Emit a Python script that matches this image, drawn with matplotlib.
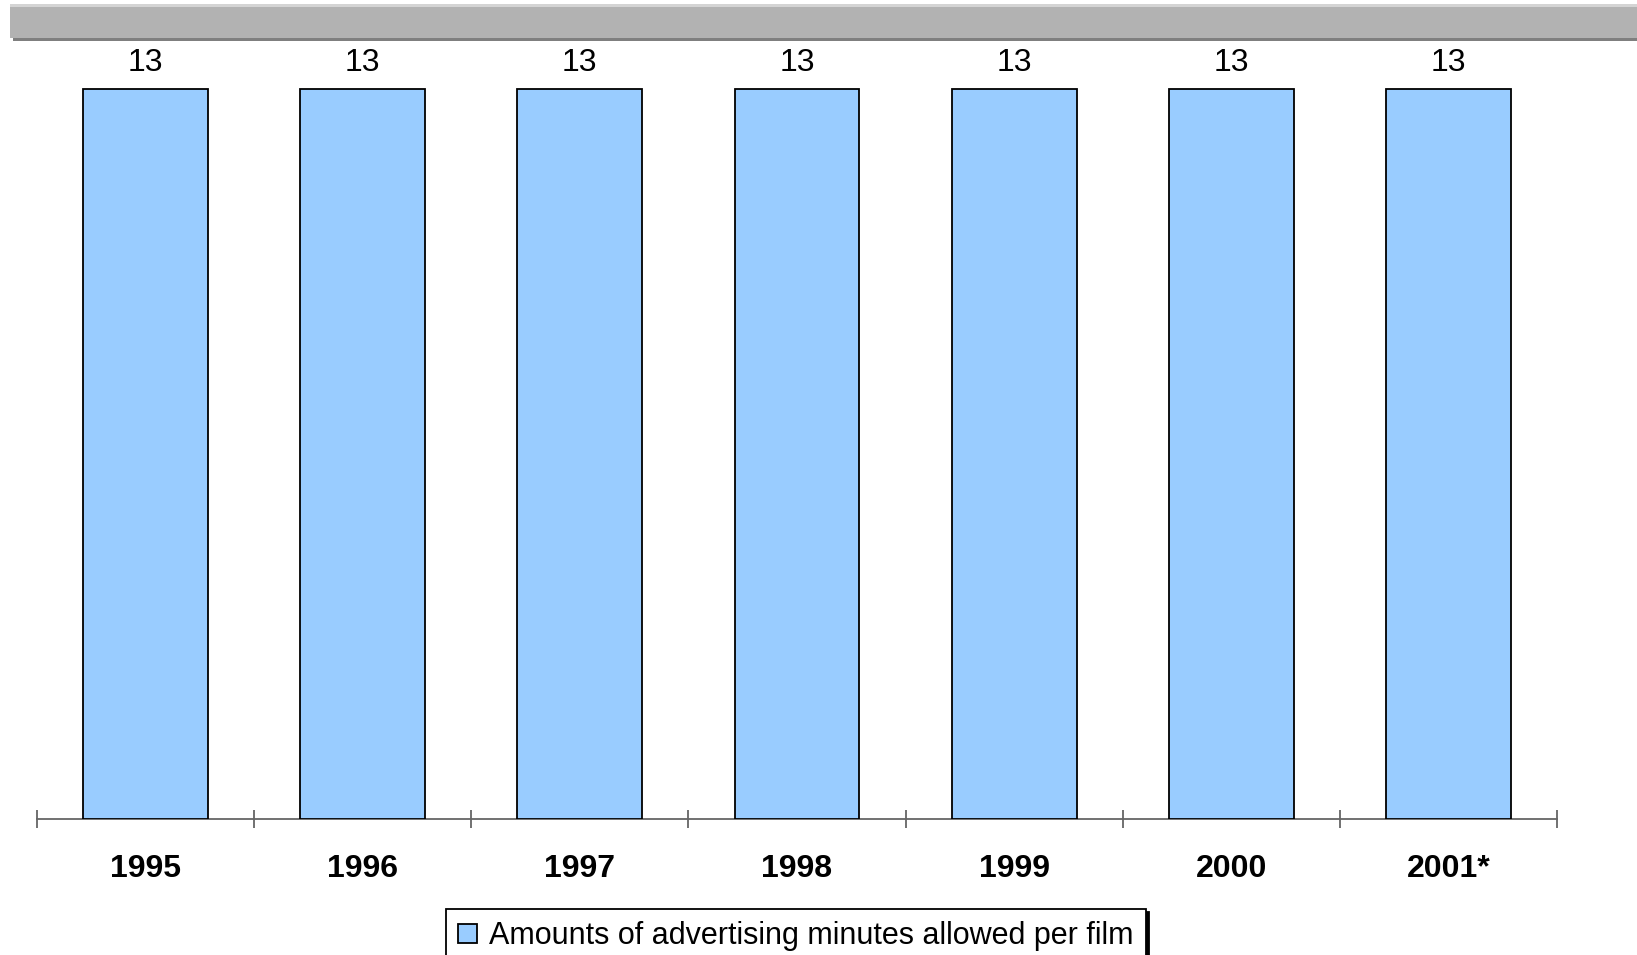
import matplotlib
matplotlib.use("Agg")
import matplotlib.pyplot as plt
from matplotlib.patches import Rectangle

plt.rcParams['font.family'] = ['Liberation Sans', 'DejaVu Sans']

years = ["1995", "1996", "1997", "1998", "1999", "2000", "2001*"]
minutes = [13, 13, 13, 13, 13, 13, 13]
series_name = "Amounts of advertising minutes allowed per film"

W, H = 1637, 955
fig = plt.figure(figsize=(W / 100, H / 100), dpi=100)

# header band with drop shadow
fig.patches.append(Rectangle((13 / W, 1 - 41 / H), (W - 13) / W, 34 / H,
                             transform=fig.transFigure, facecolor="#7f7f7f",
                             edgecolor="none", zorder=0))
fig.patches.append(Rectangle((10 / W, 1 - 38 / H), (W - 10) / W, 34 / H,
                             transform=fig.transFigure, facecolor="#b2b2b2",
                             edgecolor="none", zorder=1))
fig.patches.append(Rectangle((10 / W, 1 - 7 / H), (W - 10) / W, 3 / H,
                             transform=fig.transFigure, facecolor="#d4d4d4",
                             edgecolor="none", zorder=2))

# plot area: x from 37 to 1557 px, baseline at 819 px, value 13 at 89 px
x0, x1 = 37, 1557
y_base, y_top_val, y_axes_top = 819, 89, 42
ax = fig.add_axes([x0 / W, 1 - y_base / H, (x1 - x0) / W, (y_base - y_axes_top) / H])
ymax = 13 * (y_base - y_axes_top) / (y_base - y_top_val)

pos = list(range(len(years)))
bars = ax.bar(pos, minutes, width=0.575, color="#99ccff", edgecolor="black",
              linewidth=1.3, label=series_name, zorder=3)
ax.bar_label(bars, labels=[str(v) for v in minutes], padding=8, fontsize=23)

ax.set_xlim(-0.5, len(years) - 0.5)
ax.set_ylim(0, ymax)
for s in ("left", "right", "top"):
    ax.spines[s].set_visible(False)
ax.spines["bottom"].set_color("#666666")
ax.spines["bottom"].set_linewidth(1.3)
ax.set_yticks([])
ax.set_xticks(pos)
ax.set_xticklabels(years, fontsize=23, fontweight="bold")
ax.tick_params(axis="x", which="major", length=0, pad=25)
ax.set_xticks([p - 0.5 for p in pos] + [len(years) - 0.5], minor=True)
ax.tick_params(axis="x", which="minor", length=13, direction="inout",
               color="#666666", width=1.3)

leg = fig.legend(handles=[bars], labels=[series_name], loc="upper center",
                 bbox_to_anchor=(796 / W, 1 - 909 / H), fontsize=22,
                 frameon=True, fancybox=False, shadow={"color": "black", "alpha": 1},
                 handlelength=0.6, handleheight=0.6, handletextpad=0.4,
                 borderpad=0.4, borderaxespad=0)
leg.get_frame().set_edgecolor("black")
leg.get_frame().set_linewidth(1.3)

fig.savefig("out.png", dpi=100)
